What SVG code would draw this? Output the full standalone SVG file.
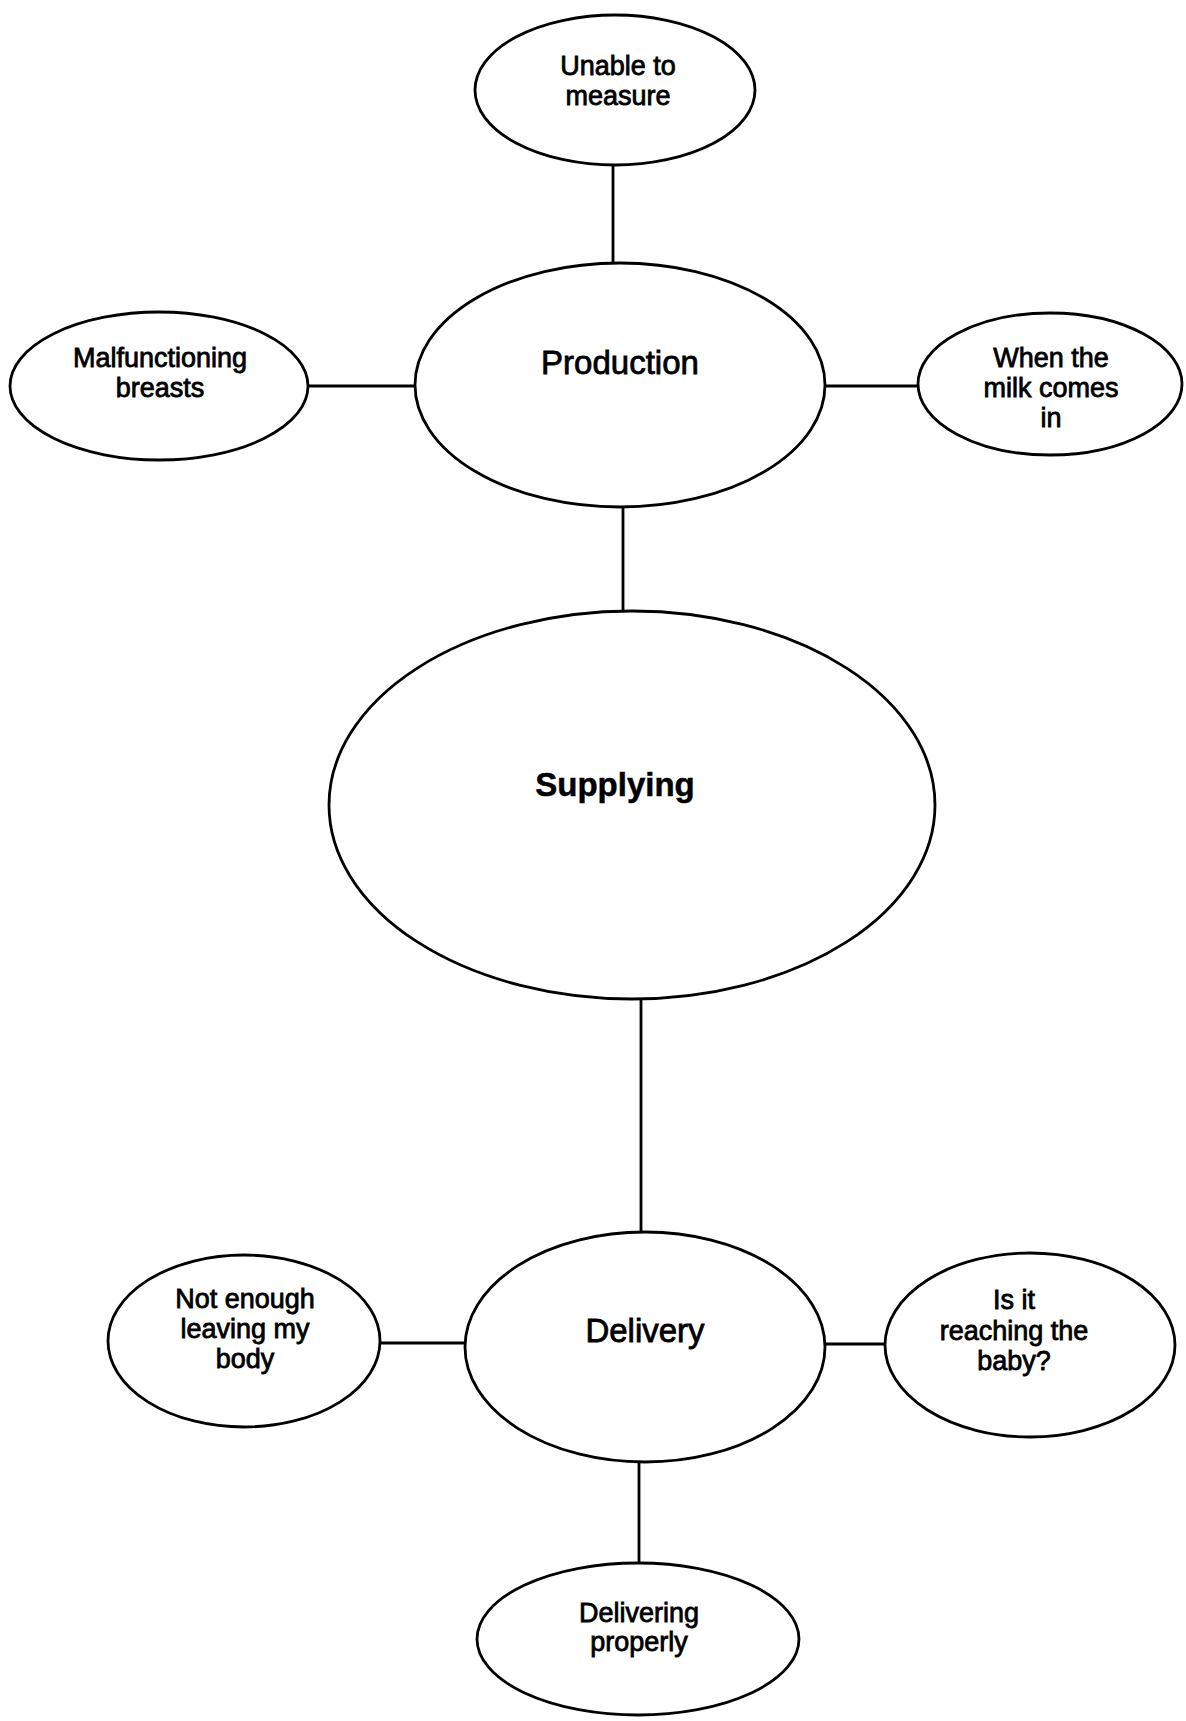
<svg xmlns="http://www.w3.org/2000/svg" width="1186" height="1721" viewBox="0 0 1186 1721">
  <style>
    .node ellipse { fill: #fff; stroke: #000; stroke-width: 2.8; }
    .edges line { stroke: #000; stroke-width: 2.8; }
    text { font-family: "Liberation Sans", Arial, sans-serif; fill: #000; stroke: #000; stroke-width: 0.8; text-anchor: middle; }
    .small { font-size: 27px; }
    .mid { font-size: 33px; }
    .main { font-size: 33px; font-weight: bold; stroke-width: 0.5; }
  </style>
  <rect width="1186" height="1721" fill="#fff"/>

  <g class="edges" id="connectors">
    <line x1="613" y1="165" x2="613" y2="263"/>
    <line x1="308" y1="386" x2="415" y2="386"/>
    <line x1="825" y1="386" x2="918" y2="386"/>
    <line x1="623" y1="507" x2="623" y2="611"/>
    <line x1="641" y1="998" x2="641" y2="1232"/>
    <line x1="380" y1="1343" x2="465" y2="1343"/>
    <line x1="825" y1="1344" x2="887" y2="1344"/>
    <line x1="639" y1="1462" x2="639" y2="1563"/>
  </g>

  <g class="node" id="unable-to-measure">
    <ellipse cx="615" cy="90" rx="140" ry="75"/>
    <text class="small" x="618" y="75">Unable to</text>
    <text class="small" x="618" y="105">measure</text>
  </g>

  <g class="node" id="production">
    <ellipse cx="620" cy="385" rx="205" ry="122"/>
    <text class="mid" x="620" y="374">Production</text>
  </g>

  <g class="node" id="malfunctioning-breasts">
    <ellipse cx="159" cy="386" rx="149" ry="74"/>
    <text class="small" x="160" y="367">Malfunctioning</text>
    <text class="small" x="160" y="397">breasts</text>
  </g>

  <g class="node" id="milk-comes-in">
    <ellipse cx="1050" cy="384" rx="132" ry="71"/>
    <text class="small" x="1051" y="367">When the</text>
    <text class="small" x="1051" y="397">milk comes</text>
    <text class="small" x="1051" y="427">in</text>
  </g>

  <g class="node" id="supplying">
    <ellipse cx="632" cy="805" rx="303" ry="194"/>
    <text class="main" x="615" y="796">Supplying</text>
  </g>

  <g class="node" id="delivery">
    <ellipse cx="645" cy="1347" rx="180" ry="115"/>
    <text class="mid" x="645" y="1342">Delivery</text>
  </g>

  <g class="node" id="not-enough">
    <ellipse cx="244" cy="1341" rx="136" ry="86"/>
    <text class="small" x="245" y="1308">Not enough</text>
    <text class="small" x="245" y="1338">leaving my</text>
    <text class="small" x="245" y="1368">body</text>
  </g>

  <g class="node" id="reaching-baby">
    <ellipse cx="1030" cy="1345" rx="145" ry="92"/>
    <text class="small" x="1014" y="1309">Is it</text>
    <text class="small" x="1014" y="1340">reaching the</text>
    <text class="small" x="1014" y="1370">baby?</text>
  </g>

  <g class="node" id="delivering-properly">
    <ellipse cx="638" cy="1639" rx="161" ry="76"/>
    <text class="small" x="639" y="1622">Delivering</text>
    <text class="small" x="639" y="1651">properly</text>
  </g>
</svg>
